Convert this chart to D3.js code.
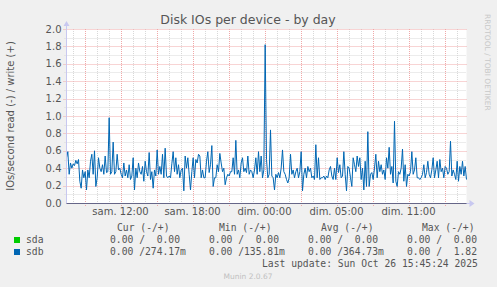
<!DOCTYPE html>
<html>
<head>
<meta charset="utf-8">
<script src="https://cdn.jsdelivr.net/npm/d3@7"></script>
<style>
  body { margin: 0; background: #f0f0f0; }
  svg { display: block; }
  text { font-family: 'DejaVu Sans', sans-serif; }
  .mono { font-family: 'DejaVu Sans Mono', monospace; }
</style>
</head>
<body>
<svg id="chart" width="497" height="287"></svg>
<script>
/* DATA */

// sdb write IOs/s left to right (sda and sdb read are all zero)
const sdbWrite = [
  0.52, 0.59, 0.33, 0.46, 0.40, 0.45, 0.43, 0.49, 0.45, 0.50, 0.25,
  0.17, 0.38, 0.29, 0.36, 0.15, 0.38, 0.29, 0.48, 0.56, 0.33,
  0.60, 0.19, 0.29, 0.52, 0.40, 0.36, 0.44, 0.33, 0.54, 0.35,
  0.36, 0.98, 0.33, 0.36, 0.70, 0.33, 0.36, 0.56, 0.38, 0.40,
  0.33, 0.29, 0.46, 0.31, 0.38, 0.29, 0.44, 0.27, 0.31, 0.52,
  0.15, 0.40, 0.29, 0.46, 0.36, 0.33, 0.42, 0.25, 0.48, 0.36,
  0.31, 0.58, 0.27, 0.36, 0.17, 0.38, 0.31, 0.61, 0.33, 0.42,
  0.33, 0.56, 0.29, 0.63,
  0.31, 0.29, 0.31, 0.29, 0.45, 0.59, 0.36, 0.52, 0.33, 0.44,
  0.29, 0.38, 0.40, 0.14, 0.54, 0.40, 0.52, 0.33, 0.15, 0.36,
  0.52, 0.29, 0.50, 0.46, 0.56, 0.54, 0.29, 0.38, 0.29, 0.29,
  0.48, 0.59, 0.35, 0.44, 0.66, 0.19, 0.29, 0.29, 0.44, 0.36,
  0.57, 0.46, 0.36, 0.40, 0.21, 0.29, 0.33, 0.31, 0.36, 0.36,
  0.52, 0.33, 0.72, 0.33, 0.38, 0.29, 0.46, 0.52, 0.36, 0.40,
  0.35, 0.54, 0.33, 0.38, 0.36, 0.29, 0.38, 0.52, 0.33, 0.59,
  0.36, 0.54, 0.29, 0.38, 1.82,
  0.50, 0.29, 0.33, 0.84, 0.31, 0.29, 0.15, 0.33, 0.29, 0.35,
  0.29, 0.40, 0.61, 0.36, 0.33, 0.27, 0.23, 0.29, 0.56, 0.33,
  0.38, 0.29, 0.36, 0.40, 0.29, 0.36, 0.59, 0.14, 0.33, 0.40,
  0.29, 0.42, 0.36, 0.40, 0.29, 0.31, 0.27, 0.67, 0.29, 0.52,
  0.27, 0.29, 0.29, 0.31, 0.27, 0.31, 0.29, 0.38, 0.42, 0.31,
  0.27, 0.40, 0.27, 0.52, 0.35, 0.44, 0.29, 0.31, 0.59, 0.33,
  0.14, 0.42, 0.40, 0.29, 0.19, 0.52, 0.44, 0.36, 0.54, 0.42,
  0.52, 0.27, 0.40, 0.15, 0.48, 0.19, 0.82,
  0.19, 0.33, 0.35, 0.27, 0.40, 0.56, 0.29, 0.48, 0.36, 0.44,
  0.33, 0.38, 0.27, 0.52, 0.40, 0.64, 0.33, 0.42, 0.23, 0.94,
  0.25, 0.19, 0.36, 0.33, 0.40, 0.62, 0.25, 0.44, 0.19, 0.33,
  0.31, 0.36, 0.59, 0.33, 0.38, 0.52, 0.29, 0.29, 0.27, 0.29,
  0.33, 0.44, 0.29, 0.35, 0.48, 0.33, 0.29, 0.38, 0.52, 0.29,
  0.38, 0.48, 0.29, 0.50, 0.36, 0.40, 0.29, 0.42, 0.40, 0.33,
  0.36, 0.71, 0.31, 0.38, 0.33, 0.27, 0.48, 0.25, 0.42, 0.33,
  0.48, 0.31, 0.42, 0.27
]

// time span shown, in hours since sam. 00:00
const timeStart = 7.5
const timeEnd = 40.83

// x tick labels (hours since sam. 00:00, real elapsed time - DST ends at night)
const xTickHours = [12, 18, 24, 30, 36]
const xTickLabels = ['sam. 12:00', 'sam. 18:00', 'dim. 00:00', 'dim. 05:00', 'dim. 11:00']

const yTicks = [0, 0.2, 0.4, 0.6, 0.8, 1.0, 1.2, 1.4, 1.6, 1.8, 2.0]

// legend
const series = ['sda', 'sdb']
const seriesColours = ['#00cc00', '#0066b3']
const legendHeaders = ['Cur (-/+)', 'Min (-/+)', 'Avg (-/+)', 'Max (-/+)']
const legendValues = [
  ['0.00 /  0.00', '0.00 /  0.00', '0.00 /  0.00', '0.00 /  0.00'],
  ['0.00 /274.17m', '0.00 /135.81m', '0.00 /364.73m', '0.00 /  1.82']
]

/* DRAW */

const svg = d3.select('#chart')
const plotLeft = 66.5
const plotRight = 466.5
const plotTop = 29
const plotBottom = 203

const x = d3.scaleLinear().domain([timeStart, timeEnd]).range([plotLeft, plotRight])
const y = d3.scaleLinear().domain([0, 2]).range([plotBottom, plotTop])

svg.append('rect')
    .attr('width', 497)
    .attr('height', 287)
    .attr('fill', '#f0f0f0')

// Plot background
svg.append('rect')
    .attr('x', plotLeft)
    .attr('y', plotTop)
    .attr('width', plotRight - plotLeft)
    .attr('height', plotBottom - plotTop)
    .attr('fill', 'white')

const grid = svg.append('g')

// Minor grid, every hour / every 0.1
d3.range(Math.ceil(timeStart), timeEnd, 1).forEach(h => {
  grid.append('line')
      .attr('x1', Math.round(x(h)) + 0.5).attr('x2', Math.round(x(h)) + 0.5)
      .attr('y1', plotTop).attr('y2', plotBottom + 2)
      .attr('stroke', '#d8d8d8')
      .attr('stroke-dasharray', '1,1')
})
d3.range(0.1, 2.0, 0.2).forEach(v => {
  grid.append('line')
      .attr('x1', plotLeft - 2).attr('x2', plotRight)
      .attr('y1', Math.round(y(v)) + 0.5).attr('y2', Math.round(y(v)) + 0.5)
      .attr('stroke', '#d8d8d8')
      .attr('stroke-dasharray', '1,1')
})

// Major grid, every 3 hours / every 0.2
d3.range(9, timeEnd, 3).forEach(h => {
  grid.append('line')
      .attr('x1', Math.round(x(h)) + 0.5).attr('x2', Math.round(x(h)) + 0.5)
      .attr('y1', plotTop).attr('y2', plotBottom + 3)
      .attr('stroke', '#f0a8a8')
      .attr('stroke-dasharray', '1,1')
})
yTicks.slice(1).forEach(v => {
  grid.append('line')
      .attr('x1', plotLeft - 3).attr('x2', plotRight)
      .attr('y1', Math.round(y(v)) + 0.5).attr('y2', Math.round(y(v)) + 0.5)
      .attr('stroke', '#f0a8a8')
      .attr('stroke-dasharray', '1,1')
})

// Y tick labels
yTicks.forEach(v => {
  svg.append('text')
      .attr('x', plotLeft - 5)
      .attr('y', y(v) + 3.5)
      .attr('text-anchor', 'end')
      .attr('font-size', 10)
      .attr('fill', '#555')
      .text(v.toFixed(1))
})

// X tick labels
xTickHours.forEach((h, i) => {
  svg.append('text')
      .attr('x', x(h))
      .attr('y', 215)
      .attr('text-anchor', 'middle')
      .attr('font-size', 10)
      .attr('fill', '#555')
      .text(xTickLabels[i])
})

// sdb write line
const step = (timeEnd - timeStart) / (sdbWrite.length - 1)
const line = d3.line()
    .x((d, i) => x(timeStart + i * step))
    .y(d => y(d))

svg.append('path')
    .datum(sdbWrite)
    .attr('d', line)
    .attr('fill', 'none')
    .attr('stroke', seriesColours[1])
    .attr('stroke-width', 1)

// Axes
svg.append('line')
    .attr('x1', plotLeft).attr('x2', plotLeft)
    .attr('y1', plotTop - 4).attr('y2', plotBottom)
    .attr('stroke', '#c8c8f0')
svg.append('path')
    .attr('d', `M${plotLeft - 3},${plotTop - 3} L${plotLeft + 3},${plotTop - 3} L${plotLeft},${plotTop - 8} Z`)
    .attr('fill', '#c8c8f0')
svg.append('line')
    .attr('x1', plotLeft).attr('x2', plotRight + 4)
    .attr('y1', plotBottom + 0.5).attr('y2', plotBottom + 0.5)
    .attr('stroke', '#c8c8f0')
svg.append('line')
    .attr('x1', plotLeft).attr('x2', plotRight)
    .attr('y1', plotBottom + 0.5).attr('y2', plotBottom + 0.5)
    .attr('stroke', '#666688')
svg.append('path')
    .attr('d', `M${plotRight + 3},${plotBottom - 3} L${plotRight + 3},${plotBottom + 4} L${plotRight + 8},${plotBottom + 0.5} Z`)
    .attr('fill', '#c8c8f0')

// Title
svg.append('text')
    .attr('x', 248)
    .attr('y', 24)
    .attr('text-anchor', 'middle')
    .attr('font-size', 12.5)
    .attr('fill', '#555')
    .text('Disk IOs per device - by day')

// Y axis title
svg.append('text')
    .attr('transform', 'translate(14,116) rotate(-90)')
    .attr('text-anchor', 'middle')
    .attr('font-size', 10)
    .attr('fill', '#555')
    .text('IOs/second read (-) / write (+)')

// Watermark
svg.append('text')
    .attr('transform', 'translate(485,14) rotate(90)')
    .attr('font-size', 7.5)
    .attr('fill', '#c8c8c8')
    .text('RRDTOOL / TOBI OETIKER')

// Legend
const legend = svg.append('g')
const headerX = [117, 219, 321, 422]
const valueX = [110, 209, 308, 407]

legendHeaders.forEach((h, i) => {
  legend.append('text')
      .attr('class', 'mono')
      .attr('x', headerX[i])
      .attr('y', 231)
      .attr('font-size', 9.7)
      .attr('fill', '#555')
      .text(h)
})

series.forEach((s, r) => {
  const rowY = 243 + r * 12
  legend.append('rect')
      .attr('x', 14)
      .attr('y', rowY - 6)
      .attr('width', 6)
      .attr('height', 6)
      .attr('fill', seriesColours[r])
  legend.append('text')
      .attr('class', 'mono')
      .attr('x', 26)
      .attr('y', rowY)
      .attr('font-size', 9.7)
      .attr('fill', '#555')
      .text(s)
  legendValues[r].forEach((v, c) => {
    legend.append('text')
        .attr('class', 'mono')
        .attr('x', valueX[c])
        .attr('y', rowY)
        .attr('font-size', 9.7)
        .attr('fill', '#555')
        .style('white-space', 'pre')
        .text(v)
  })
})

legend.append('text')
    .attr('class', 'mono')
    .attr('x', 262)
    .attr('y', 267)
    .attr('font-size', 9.7)
    .attr('fill', '#555')
    .style('white-space', 'pre')
    .text('Last update: Sun Oct 26 15:45:24 2025')

svg.append('text')
    .attr('x', 248)
    .attr('y', 279)
    .attr('text-anchor', 'middle')
    .attr('font-size', 7.5)
    .attr('fill', '#c0c0c0')
    .text('Munin 2.0.67')
</script>
</body>
</html>
